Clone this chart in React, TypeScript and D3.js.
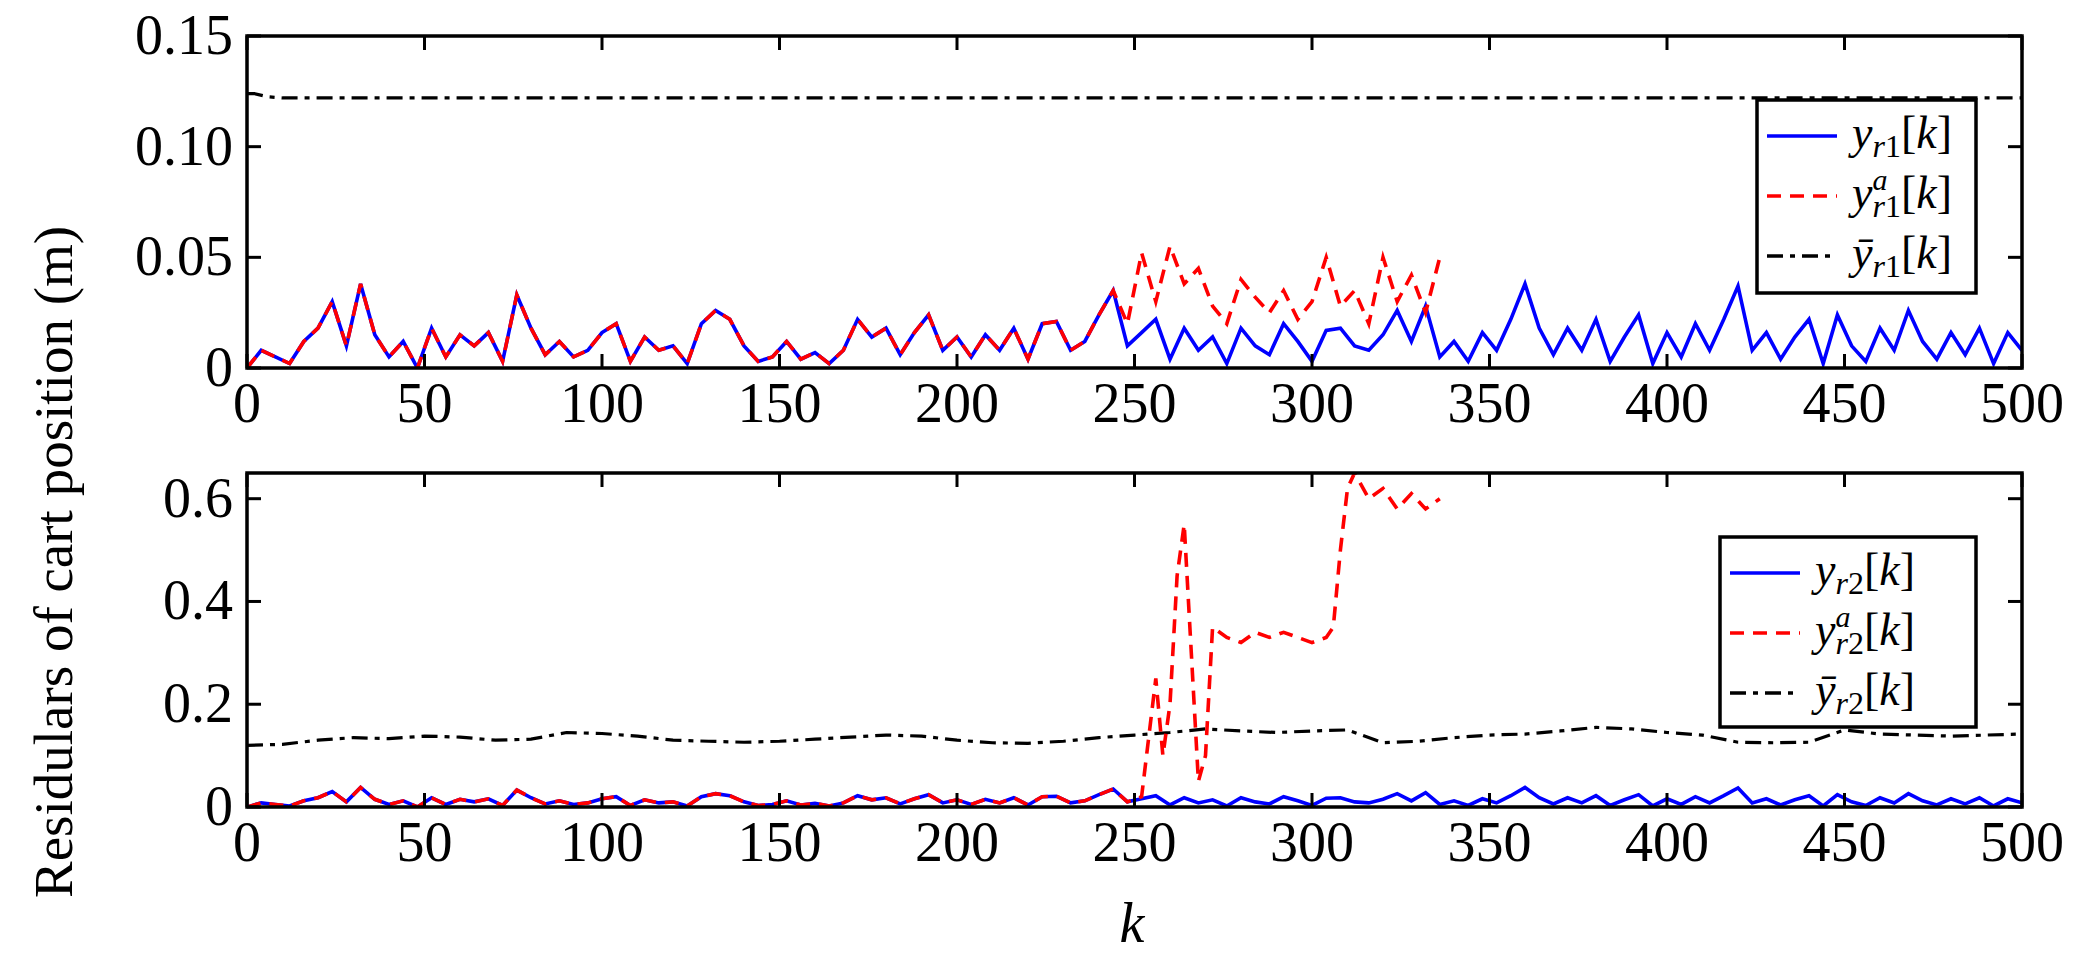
import React from "react";
import * as d3 from "d3";

const kStep = 4;
const blue1 = [0,8,5,2,12,18,30,10,38,15,5,12,0,18,5,15,10,16,3,33,18,6,12,5,8,16,20,3,14,8,10,2,20,26,22,10,3,5,12,4,7,2,8,22,14,18,6,16,24,8,14,5,15,8,18,4,20,21,8,12,24,35,10,16,22,4,18,8,14,2,18,10,6,20,12,3,17,18,10,8,15,26,12,28,5,12,3,16,8,22,38,18,6,18,8,22,3,14,24,2,16,5,20,8,22,37,8,16,4,14,22,2,24,10,3,18,8,26,12,4,16,6,18,2,16,8];
const attackK0 = 248;
const attack1 = [20,52,30,55,38,45,28,20,40,32,25,35,22,30,50,28,35,20,50,30,42,25,50];
const attack2K = [248,252,256,258,260,262,264,266,268,270,272,276,280,284,288,292,296,300,304,306,308,310,312,316,320,324,328,332,336];
const attack2 = [0.01,0.02,0.25,0.1,0.2,0.45,0.55,0.3,0.05,0.1,0.35,0.33,0.32,0.34,0.33,0.34,0.33,0.32,0.33,0.35,0.5,0.62,0.65,0.6,0.62,0.58,0.61,0.58,0.6];
const thr1K = [0,2,6,10,500];
const thr1 = [0.124,0.124,0.1225,0.122,0.122];
const thr2K = [0,10,20,30,40,50,60,70,80,90,100,110,120,130,140,150,160,170,180,190,200,210,220,230,240,250,260,270,280,290,300,310,320,330,340,350,360,370,380,390,400,410,420,430,440,450,460,470,480,490,500];
const thr2 = [0.12,0.122,0.13,0.135,0.133,0.138,0.136,0.13,0.132,0.145,0.143,0.138,0.13,0.128,0.126,0.128,0.132,0.136,0.14,0.138,0.13,0.125,0.124,0.128,0.135,0.14,0.145,0.152,0.148,0.145,0.148,0.15,0.125,0.128,0.135,0.14,0.142,0.148,0.155,0.152,0.145,0.14,0.126,0.125,0.126,0.15,0.142,0.14,0.138,0.14,0.142];
const xTicks = [0,50,100,150,200,250,300,350,400,450,500];
const yTicks1 = [0,0.05,0.1,0.15];
const yTicks2 = [0,0.2,0.4,0.6];

const L = 247, R = 2022;
const font = "'Liberation Serif', 'Times New Roman', serif";

type P = [number, number];

function Panel({ top, bottom, yMax, yTicks, fmt, series, legendBox, sub }: any) {
  const x = d3.scaleLinear().domain([0, 500]).range([L, R]);
  const y = d3.scaleLinear().domain([0, yMax]).range([bottom, top]);
  const line = d3.line<P>().x(d => x(d[0])).y(d => y(Math.min(d[1], yMax)));
  const tl = 14;
  const [bx, by, bw, bh] = legendBox;
  const sb = (
    <><tspan fontSize={32} dy={9}>r</tspan><tspan fontSize={32} fontStyle="normal">{sub}</tspan></>
  );
  const tail = <><tspan dy={-9} fontStyle="normal">[</tspan><tspan>k</tspan><tspan fontStyle="normal">]</tspan></>;
  const names = [
    <>y{sb}{tail}</>,
    <>y<tspan fontSize={30} dy={-18}>a</tspan><tspan fontSize={32} dx={-15} dy={27}>r</tspan><tspan fontSize={32} fontStyle="normal">{sub}</tspan><tspan dy={-9} fontStyle="normal">[</tspan><tspan>k</tspan><tspan fontStyle="normal">]</tspan></>,
    <>y&#772;{sb}{tail}</>,
  ];
  const styles = [
    { stroke: "#0000ff", dash: "none" },
    { stroke: "#ff0000", dash: "14,9" },
    { stroke: "#000", dash: "16,7,5,7" },
  ];
  return (
    <g>
      <clipPath id={"c" + sub}><rect x={L} y={top} width={R - L} height={bottom - top} /></clipPath>
      <g clipPath={`url(#c${sub})`}>
        <path d={line(series[2])!} fill="none" stroke="#000" strokeWidth={3.2} strokeDasharray="16,7,5,7" />
        <path d={line(series[0])!} fill="none" stroke="#0000ff" strokeWidth={3.6} />
        <path d={line(series[1])!} fill="none" stroke="#ff0000" strokeWidth={3.6} strokeDasharray="14,9" />
      </g>
      <rect x={L} y={top} width={R - L} height={bottom - top} fill="none" stroke="#000" strokeWidth={3.5} />
      {xTicks.map(t => (
        <g key={t}>
          <line x1={x(t)} x2={x(t)} y1={bottom} y2={bottom - tl} stroke="#000" strokeWidth={3} />
          <line x1={x(t)} x2={x(t)} y1={top} y2={top + tl} stroke="#000" strokeWidth={3} />
          <text x={x(t)} y={bottom + 54} textAnchor="middle" fontSize={56} fontFamily={font}>{t}</text>
        </g>
      ))}
      {yTicks.map((t: number) => (
        <g key={t}>
          <line x1={L} x2={L + tl} y1={y(t)} y2={y(t)} stroke="#000" strokeWidth={3} />
          <line x1={R} x2={R - tl} y1={y(t)} y2={y(t)} stroke="#000" strokeWidth={3} />
          <text x={L - 14} y={y(t) + 18} textAnchor="end" fontSize={56} fontFamily={font}>{fmt(t)}</text>
        </g>
      ))}
      <rect x={bx} y={by} width={bw} height={bh} fill="#fff" stroke="#000" strokeWidth={3.5} />
      {names.map((n, i) => {
        const yy = by + 36 + i * 60;
        return (
          <g key={i}>
            <line x1={bx + 10} x2={bx + 80} y1={yy} y2={yy} stroke={styles[i].stroke} strokeWidth={3.4} strokeDasharray={styles[i].dash} />
            <text x={bx + 95} y={yy + 12} fontSize={46} fontFamily={font} fontStyle="italic">{n}</text>
          </g>
        );
      })}
    </g>
  );
}

export default function App() {
  const b: P[] = blue1.map((v, i) => [i * kStep, v / 1000]);
  const preN = attackK0 / kStep;
  const red1: P[] = [...b.slice(0, preN), ...attack1.map((v, i) => [attackK0 + i * kStep, v / 1000] as P)];
  const red2: P[] = [...b.slice(0, preN), ...attack2.map((v, i) => [attack2K[i], v] as P)];
  const t1: P[] = thr1.map((v, i) => [thr1K[i], v]);
  const t2: P[] = thr2.map((v, i) => [thr2K[i], v]);
  const fmt1 = (t: number) => (t === 0 ? "0" : t.toFixed(2));
  const fmt2 = (t: number) => (t === 0 ? "0" : t.toFixed(1));
  return (
    <svg width={2079} height={976} style={{ position: "absolute", left: 0, top: 0, background: "#fff" }}>
      <Panel top={36} bottom={368} yMax={0.15} yTicks={yTicks1} fmt={fmt1} series={[b, red1, t1]} legendBox={[1757, 100, 219, 193]} sub="1" />
      <Panel top={473} bottom={807} yMax={0.65} yTicks={yTicks2} fmt={fmt2} series={[b, red2, t2]} legendBox={[1720, 537, 256, 190]} sub="2" />
      <text transform="translate(72,562) rotate(-90)" textAnchor="middle" fontSize={55} fontFamily={font}>Residulars of cart position (m)</text>
      <text x={1132} y={942} textAnchor="middle" fontSize={56} fontFamily={font} fontStyle="italic">k</text>
    </svg>
  );
}
